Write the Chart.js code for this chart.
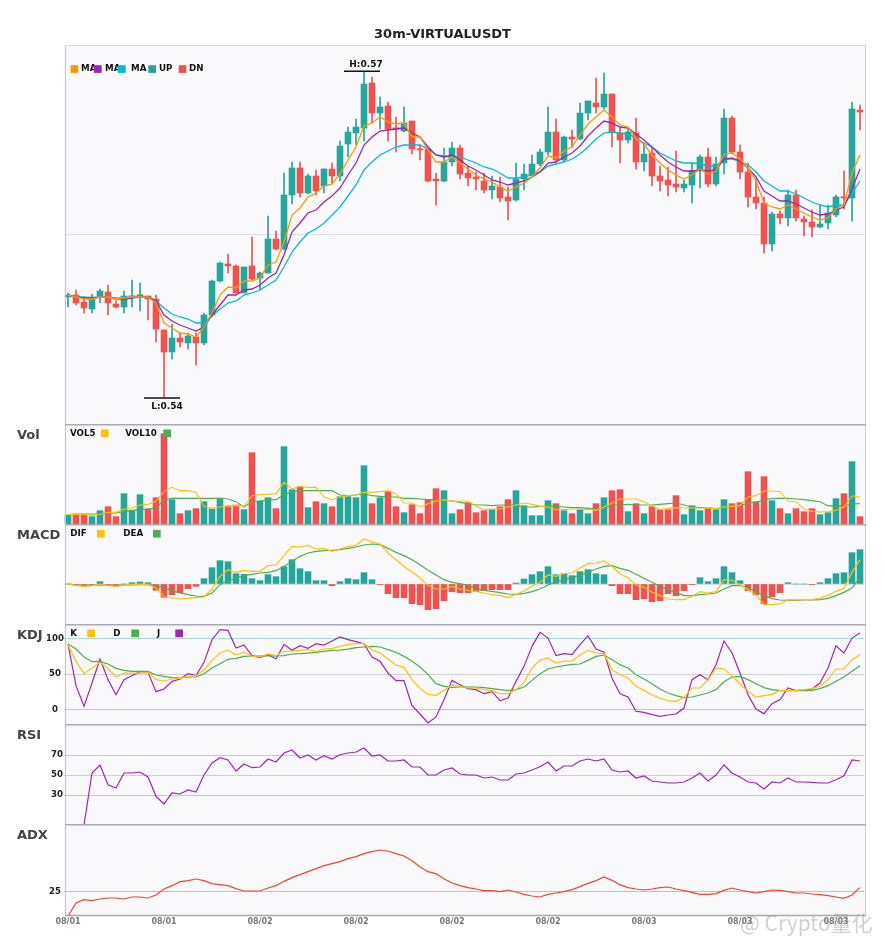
<!DOCTYPE html>
<html><head><meta charset="utf-8">
<script src="https://cdn.jsdelivr.net/npm/chart.js@4.4.1/dist/chart.umd.min.js"></script>
<style>
html,body{margin:0;padding:0;background:#fff;}
#wrap{position:relative;width:885px;height:950px;overflow:hidden;background:#fff;}
canvas{position:absolute;left:0;}
.lbl{position:absolute;left:17px;font:bold 13px "DejaVu Sans",sans-serif;color:#444;line-height:15px;}
#title{position:absolute;top:26px;left:0;width:885px;text-align:center;font:bold 13px "DejaVu Sans",sans-serif;color:#222;line-height:16px;}
</style></head><body>
<div id="wrap">
<canvas id="cMain" style="top:0" width="885" height="424"></canvas>
<canvas id="cVol" style="top:424px" width="885" height="100"></canvas>
<canvas id="cMacd" style="top:524px" width="885" height="100"></canvas>
<canvas id="cKdj" style="top:624px" width="885" height="100"></canvas>
<canvas id="cRsi" style="top:724px" width="885" height="100"></canvas>
<canvas id="cAdx" style="top:824px" width="885" height="126"></canvas>
<div id="title">30m-VIRTUALUSDT</div>
<div class="lbl" style="top:427px">Vol</div>
<div class="lbl" style="top:527px">MACD</div>
<div class="lbl" style="top:627px">KDJ</div>
<div class="lbl" style="top:727px">RSI</div>
<div class="lbl" style="top:827px">ADX</div>
</div>
<script>
// ---------------- data ----------------
const tickLabels = ['08/01','08/01','08/02','08/02','08/02','08/02','08/03','08/03','08/03'];
const categories = [];
for (let i = 0; i < 100; i++) {
  const m = 12 * 60 + i * 30, d = 1 + Math.floor(m / 1440), hm = m % 1440;
  categories.push('08/0' + d + ' ' + String(Math.floor(hm / 60)).padStart(2, '0') + ':' + (hm % 60 ? '30' : '00'));
}
const opens = [.5475,.5477,.5470,.5463,.5476,.5480,.5468,.5465,.5475,.5476,
.5476,.5473,.5442,.5420,.5434,.5429,.5435,.5429,.5457,.5491,
.5508,.5506,.5479,.5506,.5494,.5499,.5533,.5523,.5577,.5604,
.5579,.5596,.5586,.5603,.5596,.5628,.5639,.5644,.5689,.5659,
.5666,.5644,.5641,.5651,.5623,.5623,.5593,.5591,.5610,.5624,
.5599,.5595,.5591,.5582,.5585,.5575,.5572,.5593,.5597,.5608,
.5620,.5640,.5612,.5635,.5633,.5659,.5669,.5665,.5678,.5639,
.5632,.5639,.5610,.5619,.5596,.5592,.5588,.5584,.5587,.5601,
.5615,.5588,.5609,.5654,.5620,.5600,.5575,.5569,.5528,.5558,
.5554,.5577,.5553,.5550,.5545,.5549,.5557,.5575,.5574,.5662];
const highs = [.5479,.5482,.5473,.5478,.5483,.5487,.5471,.5481,.5492,.5489,
.5476,.5477,.5442,.5448,.5439,.5439,.5439,.5459,.5492,.5510,
.5518,.5507,.5505,.5535,.5500,.5556,.5541,.5599,.5610,.5610,
.5598,.5602,.5603,.5609,.5631,.5645,.5653,.5700,.5695,.5675,
.5670,.5655,.5665,.5651,.5627,.5625,.5599,.5624,.5630,.5627,
.5606,.5600,.5599,.5596,.5595,.5585,.5609,.5608,.5617,.5623,
.5665,.5653,.5636,.5642,.5669,.5671,.5694,.5699,.5678,.5645,
.5643,.5654,.5629,.5625,.5606,.5605,.5621,.5592,.5609,.5617,
.5624,.5615,.5663,.5656,.5627,.5609,.5593,.5575,.5560,.5561,
.5582,.5582,.5556,.5562,.5567,.5567,.5577,.5601,.5670,.5667];
const lows = [.5465,.5467,.5459,.5459,.5469,.5457,.5464,.5459,.5465,.5461,
.5452,.5430,.5375,.5413,.5425,.5423,.5407,.5427,.5455,.5490,
.5499,.5479,.5479,.5492,.5482,.5499,.5522,.5522,.5568,.5575,
.5578,.5577,.5579,.5589,.5591,.5615,.5627,.5631,.5649,.5643,
.5631,.5620,.5640,.5618,.5612,.5590,.5567,.5590,.5606,.5593,
.5586,.5582,.5579,.5573,.5570,.5552,.5571,.5582,.5595,.5606,
.5617,.5610,.5610,.5625,.5632,.5652,.5659,.5663,.5625,.5609,
.5629,.5603,.5601,.5586,.5581,.5576,.5580,.5580,.5569,.5584,
.5585,.5586,.5598,.5619,.5593,.5565,.5563,.5519,.5521,.5548,
.5546,.5551,.5536,.5535,.5544,.5543,.5555,.5563,.5551,.5642];
const closes = [.5477,.5469,.5464,.5475,.5481,.5469,.5465,.5476,.5476,.5477,
.5473,.5443,.5420,.5434,.5430,.5436,.5429,.5457,.5491,.5509,
.5506,.5479,.5505,.5493,.5499,.5533,.5523,.5577,.5604,.5579,
.5596,.5581,.5603,.5596,.5626,.5640,.5645,.5688,.5659,.5665,
.5643,.5643,.5649,.5623,.5622,.5591,.5591,.5610,.5624,.5598,
.5594,.5593,.5582,.5586,.5574,.5571,.5593,.5598,.5608,.5620,
.5640,.5612,.5635,.5633,.5659,.5671,.5665,.5678,.5640,.5632,
.5640,.5610,.5618,.5596,.5591,.5587,.5585,.5588,.5601,.5615,
.5588,.5608,.5654,.5620,.5600,.5575,.5569,.5528,.5558,.5554,
.5577,.5554,.5550,.5545,.5548,.5559,.5575,.5574,.5663,.5660];
const ma5 = [.5477,.5475,.5473,.5473,.5475,.5475,.5473,.5474,.5475,.5475,
.5475,.5469,.5449,.5444,.5439,.5438,.5435,.5445,.5459,.5477,
.5485,.5484,.5491,.5491,.5494,.5507,.5510,.5530,.5557,.5564,
.5575,.5579,.5586,.5588,.5598,.5612,.5625,.5646,.5649,.5655,
.5650,.5648,.5649,.5635,.5635,.5622,.5610,.5610,.5615,.5609,
.5603,.5597,.5593,.5590,.5585,.5581,.5585,.5589,.5595,.5604,
.5616,.5614,.5621,.5625,.5637,.5648,.5655,.5662,.5655,.5647,
.5645,.5633,.5628,.5617,.5609,.5602,.5597,.5593,.5597,.5603,
.5598,.5601,.5618,.5619,.5613,.5604,.5591,.5569,.5565,.5563,
.5567,.5563,.5559,.5555,.5552,.5554,.5563,.5567,.5599,.5617];
const ma10 = [.5477,.5475,.5474,.5474,.5475,.5475,.5473,.5473,.5474,.5475,
.5475,.5471,.5457,.5451,.5447,.5444,.5441,.5445,.5457,.5467,
.5477,.5477,.5482,.5483,.5487,.5494,.5499,.5517,.5540,.5549,
.5559,.5562,.5570,.5576,.5584,.5597,.5609,.5627,.5635,.5641,
.5642,.5643,.5644,.5639,.5635,.5625,.5617,.5615,.5617,.5612,
.5606,.5602,.5597,.5592,.5590,.5587,.5589,.5591,.5595,.5600,
.5609,.5610,.5615,.5619,.5626,.5636,.5644,.5651,.5649,.5645,
.5644,.5638,.5632,.5625,.5617,.5610,.5605,.5601,.5601,.5602,
.5601,.5602,.5613,.5614,.5611,.5604,.5595,.5581,.5576,.5571,
.5571,.5568,.5564,.5560,.5557,.5558,.5562,.5565,.5583,.5603];
const ma30 = [.5477,.5475,.5475,.5474,.5475,.5475,.5474,.5474,.5475,.5475,
.5475,.5471,.5464,.5458,.5455,.5453,.5449,.5449,.5456,.5463,
.5469,.5471,.5477,.5479,.5482,.5487,.5492,.5505,.5520,.5530,
.5539,.5543,.5549,.5557,.5565,.5576,.5587,.5602,.5610,.5617,
.5621,.5625,.5627,.5627,.5627,.5623,.5617,.5616,.5615,.5615,
.5612,.5609,.5605,.5603,.5599,.5594,.5594,.5595,.5597,.5600,
.5606,.5608,.5610,.5613,.5618,.5625,.5633,.5639,.5640,.5639,
.5638,.5634,.5629,.5625,.5619,.5615,.5611,.5609,.5609,.5608,
.5606,.5606,.5613,.5613,.5611,.5607,.5600,.5591,.5586,.5581,
.5581,.5578,.5574,.5570,.5567,.5565,.5567,.5567,.5579,.5591];
const volumes = [27,28,28,22,40,52,22,91,40,88,
45,79,271,73,31,40,46,67,45,76,
52,57,43,214,69,79,46,232,103,111,
49,67,61,52,82,82,79,175,61,79,
97,52,34,58,31,72,106,100,31,43,
64,34,40,43,52,73,100,55,25,25,
70,61,40,31,43,31,61,79,100,103,
37,61,31,52,43,43,85,28,55,40,
46,43,73,61,64,157,67,142,70,46,
31,46,37,46,28,34,76,91,187,22];
const vol5 = [28,29,29,26,29,35,35,45,48,57,
59,68,98,110,100,100,95,53,47,51,
55,55,53,85,88,89,91,125,105,113,
110,110,81,73,81,85,87,95,95,97,
100,91,63,63,51,61,69,73,68,69,
69,53,43,45,45,51,57,63,59,53,
51,43,43,45,45,43,41,51,63,75,
75,75,67,55,43,47,49,48,48,48,
49,45,51,53,55,81,85,99,99,97,
69,67,45,38,36,37,41,51,84,81];
const vol10 = [28,30,30,30,29,33,33,37,41,43,
45,47,73,77,77,77,77,77,77,78,
75,67,51,67,69,72,73,88,97,100,
100,100,100,100,87,85,87,91,85,83,
81,81,77,77,75,73,73,71,69,65,
61,57,57,55,57,57,55,51,51,53,
53,53,51,49,49,47,45,47,57,57,
59,57,57,57,59,61,63,57,51,49,
49,45,51,53,55,63,65,73,76,77,
77,75,73,70,67,55,53,55,60,61];
const macdHist = [0,-0.00004,-0.00006,-0.00003,0.00007,-0.00004,-0.00006,0,0.00004,0.00006,
0.00004,-0.00019,-0.00040,-0.00032,-0.00026,-0.00014,-0.00007,0.00016,0.00049,0.00070,
0.00067,0.00031,0.00029,0.00016,0.00010,0.00028,0.00022,0.00052,0.00073,0.00046,
0.00037,0.00010,0.00010,-0.00005,0.00007,0.00016,0.00013,0.00034,0.00013,-0.00002,
-0.00029,-0.00041,-0.00041,-0.00059,-0.00062,-0.00077,-0.00074,-0.00050,-0.00023,-0.00026,
-0.00026,-0.00023,-0.00020,-0.00017,-0.00017,-0.00017,0.00003,0.00015,0.00028,0.00037,
0.00052,0.00028,0.00031,0.00025,0.00037,0.00043,0.00031,0.00028,-0.00005,-0.00029,
-0.00029,-0.00047,-0.00044,-0.00053,-0.00050,-0.00029,-0.00035,-0.00020,-0.00002,0.00019,
0.00007,0.00016,0.00052,0.00034,0.00010,-0.00020,-0.00032,-0.00059,-0.00038,-0.00026,
0.00004,0,0,-0.00002,0.00004,0.00016,0.00031,0.00034,0.00094,0.00103];
const dif = [0,-0.00004,-0.00007,-0.00005,-0.00001,-0.00005,-0.00007,-0.00004,-0.00001,-0.00001,
-0.00002,-0.00012,-0.00039,-0.00042,-0.00045,-0.00043,-0.00041,-0.00039,-0.00015,0.00023,
0.00043,0.00035,0.00041,0.00038,0.00038,0.00055,0.00057,0.00085,0.00113,0.00111,
0.00116,0.00105,0.00107,0.00098,0.00105,0.00113,0.00116,0.00135,0.00126,0.00120,
0.00093,0.00073,0.00053,0.00037,0.00018,-0.00004,-0.00015,-0.00015,-0.00007,-0.00015,
-0.00019,-0.00022,-0.00027,-0.00032,-0.00034,-0.00041,-0.00031,-0.00021,-0.00007,0.00005,
0.00027,0.00023,0.00031,0.00033,0.00048,0.00061,0.00063,0.00069,0.00053,0.00031,
0.00018,-0.00003,-0.00010,-0.00025,-0.00035,-0.00045,-0.00047,-0.00047,-0.00037,-0.00023,
-0.00027,-0.00023,0.00013,0.00011,-0.00002,-0.00017,-0.00032,-0.00062,-0.00062,-0.00059,
-0.00047,-0.00048,-0.00048,-0.00047,-0.00042,-0.00034,-0.00022,-0.00012,0.00035,0.00073];
const dea = [0,-0.00003,-0.00005,-0.00004,-0.00003,-0.00004,-0.00004,-0.00003,-0.00003,-0.00002,
-0.00002,-0.00005,-0.00012,-0.00020,-0.00027,-0.00032,-0.00036,-0.00037,-0.00027,-0.00002,
0.00009,0.00018,0.00025,0.00029,0.00033,0.00035,0.00040,0.00053,0.00068,0.00083,
0.00093,0.00098,0.00100,0.00101,0.00103,0.00107,0.00111,0.00117,0.00120,0.00118,
0.00107,0.00095,0.00085,0.00073,0.00058,0.00041,0.00027,0.00013,0.00005,0.00001,
-0.00004,-0.00013,-0.00019,-0.00022,-0.00026,-0.00030,-0.00031,-0.00028,-0.00023,-0.00015,
-0.00003,0.00006,0.00013,0.00019,0.00026,0.00035,0.00045,0.00053,0.00055,0.00047,
0.00041,0.00029,0.00017,0.00005,-0.00007,-0.00017,-0.00025,-0.00035,-0.00035,-0.00032,
-0.00030,-0.00027,-0.00015,-0.00005,-0.00004,-0.00012,-0.00022,-0.00035,-0.00044,-0.00048,
-0.00049,-0.00049,-0.00048,-0.00048,-0.00047,-0.00043,-0.00035,-0.00025,-0.00012,0.00019];
const kLine = [91.6,68.1,50.7,58.7,66.7,57.7,46.0,51.6,51.6,51.6,
52.6,42.3,40.4,43.2,44.1,46.9,47.9,56.3,69.5,79.8,
84.0,77.0,81.2,75.1,74.2,78.4,76.1,82.2,82.6,83.6,
84.5,81.7,85.4,86.4,89.2,92.0,93.0,93.0,84.5,79.8,
71.4,62.9,59.6,42.3,30.0,21.6,20.2,27.2,34.7,32.9,
30.5,30.5,28.2,26.8,22.5,22.5,28.2,38.5,58.7,69.5,
72.8,65.7,68.5,68.5,77.0,83.6,79.8,78.9,56.3,49.3,
44.6,32.9,27.2,21.1,16.0,12.7,11.7,17.4,30.5,30.5,
42.3,58.7,57.3,47.9,36.2,25.8,17.8,19.7,21.6,27.2,
27.2,27.2,28.2,29.6,32.9,42.3,57.3,57.3,70.4,77.5];
const dLine = [92.5,85.4,74.2,67.6,68.1,64.3,58.2,55.4,54.0,54.0,
54.0,48.8,46.9,45.1,44.6,46.0,46.0,50.7,58.7,64.8,
70.9,72.3,75.1,75.6,75.6,76.1,75.6,76.1,78.4,78.9,
79.8,80.8,82.2,83.6,84.0,85.4,87.3,88.3,89.2,88.3,
84.5,80.8,75.1,68.1,60.1,49.3,36.6,32.9,31.5,31.9,
31.9,31.9,31.0,29.6,28.2,26.8,28.2,31.9,41.3,50.7,
57.3,60.1,62.0,63.9,64.3,69.5,75.1,77.0,70.4,63.4,
58.7,49.3,43.2,36.6,29.1,23.5,19.7,16.9,17.8,20.7,
23.5,28.2,39.4,46.0,46.9,42.3,36.6,31.0,28.2,26.8,
26.8,26.8,26.8,27.2,29.6,33.8,39.9,46.0,54.0,62.0];
const jLine = [92.5,33.8,4.7,37.6,71.4,42.3,21.1,42.3,47.9,53.5,
52.6,25.4,29.1,39.9,43.2,50.7,47.9,66.7,98.6,112.7,
111.7,86.9,91.1,76.1,73.2,77.9,71.4,92.0,83.6,90.1,
86.4,93.0,91.1,96.7,102.4,98.6,95.8,93.0,74.2,68.1,
51.6,40.8,40.8,5.6,-6.1,-18.8,-10.3,14.1,41.3,35.2,
29.6,28.2,22.5,25.4,12.7,16.4,39.9,61.0,89.2,108.9,
100.9,76.1,78.9,77.5,91.6,104.2,85.4,80.8,44.6,22.5,
17.8,-2.3,-3.8,-7.0,-9.4,-7.5,-6.1,2.3,42.3,49.3,
42.3,63.4,96.7,79.8,51.6,21.1,0.9,-5.6,8.5,14.1,
30.5,26.8,27.7,29.1,37.6,58.7,90.1,79.8,100.9,108.0];
const rsi = [null,null,0,52.0,60.0,40.3,37.0,52.0,52.0,53.0,
48.0,28.7,21.0,32.0,31.0,35.0,33.0,50.0,62.0,67.3,
65.0,54.0,61.0,57.3,58.0,66.0,63.0,72.0,75.0,67.0,
70.0,65.0,69.3,66.0,70.3,72.0,73.0,77.0,69.0,70.0,
64.0,64.0,65.0,58.0,58.0,50.0,50.0,55.0,57.0,51.0,
50.0,50.0,47.0,48.0,45.0,45.0,51.0,52.0,55.0,58.3,
63.0,54.0,59.0,59.0,64.0,66.0,64.0,66.0,55.0,53.0,
54.0,47.0,49.0,44.0,43.0,42.0,42.0,43.0,47.0,52.0,
44.0,50.0,60.0,52.0,48.0,43.0,42.0,36.0,43.0,42.0,
47.0,43.0,43.0,42.7,42.0,42.0,45.3,49.3,65.0,64.0];
const adx = [17.6,21.6,22.6,22.3,22.8,23.1,23.1,22.8,23.4,23.4,
23.1,24.0,25.8,26.8,28.0,28.3,28.8,28.3,27.4,27.1,
26.8,25.9,25.2,25.2,25.2,26.1,26.8,28.1,29.2,30.1,
31.0,31.9,32.8,33.4,34.0,34.9,35.5,36.4,37.0,37.5,
37.2,36.4,35.7,34.3,32.5,31.0,30.4,28.9,27.6,26.8,
26.2,25.8,25.3,25.3,25.0,25.5,24.9,24.2,23.7,23.4,
24.2,24.6,25.0,25.6,26.5,27.5,28.3,29.4,28.4,27.1,
26.2,25.8,25.5,25.8,26.2,26.4,25.8,25.3,24.8,24.2,
24.2,24.4,25.4,26.1,25.5,25.0,24.6,25.0,25.5,25.4,
25.0,24.6,24.6,24.3,24.1,23.8,23.4,23.0,24.0,26.2];

// ---------------- styles ----------------
const UP = '#26a69a', DN = '#ef5350';
const ORANGE = '#ff9800', PURPLE = '#9c27b0', CYAN = '#00bcd4', YEL = '#ffc107', GRN = '#4caf50', ADXC = '#f44336';
const FONT = '"DejaVu Sans", sans-serif';
const candleColors = closes.map((c, i) => c >= opens[i] ? UP : DN);

// ---------------- plugins ----------------
const framePlugin = {
  id: 'frame',
  beforeDraw(chart) {
    const { ctx, chartArea: a } = chart;
    ctx.save(); ctx.fillStyle = '#f9f9fc';
    ctx.fillRect(a.left, a.top, a.right - a.left + 2, a.bottom - a.top);
    ctx.restore();
  },
  afterDraw(chart, args, o) {
    const { ctx, chartArea: a } = chart;
    const seg = (x1, y1, x2, y2, c, w) => { ctx.beginPath(); ctx.strokeStyle = c; ctx.lineWidth = w; ctx.moveTo(x1, y1); ctx.lineTo(x2, y2); ctx.stroke(); };
    ctx.save();
    seg(a.left + 1.5, a.top, a.left + 1.5, a.bottom, '#c4c4cc', 1);
    seg(a.right + 1.5, a.top, a.right + 1.5, a.bottom, '#cdcdd5', 1);
    if (o.top === 'light') seg(a.left + 1, a.top + 0.5, a.right + 2, a.top + 0.5, '#d3d3db', 1);
    if (o.top === 'dark') seg(a.left + 1, a.top + 0.75, a.right + 2, a.top + 0.75, '#a9a9b3', 1.5);
    if (o.bottom) seg(a.left + 1, a.bottom + 0.5, a.right + 2, a.bottom + 0.5, '#a9a9b3', 1.5);
    ctx.restore();
  }
};
const boxLegendPlugin = {
  id: 'boxLegend',
  afterDraw(chart, args, o) {
    if (!o.items) return;
    const ctx = chart.ctx;
    ctx.save();
    ctx.font = 'bold 8.7px ' + FONT; ctx.textBaseline = 'middle'; ctx.fillStyle = '#111';
    o.items.forEach(it => ctx.fillText(it.t, it.tx, o.y));
    o.items.forEach(it => { ctx.fillStyle = it.c; ctx.fillRect(it.bx, o.y - 3.8, 7.7, 7.7); });
    ctx.restore();
  }
};
const yLabelPlugin = {
  id: 'yLabels',
  afterDraw(chart, args, o) {
    if (!o.values) return;
    const ctx = chart.ctx, ys = chart.scales.y;
    ctx.save();
    ctx.font = 'bold 8.6px ' + FONT; ctx.fillStyle = '#222'; ctx.textAlign = 'center'; ctx.textBaseline = 'middle';
    o.values.forEach(v => ctx.fillText(String(v), o.x, ys.getPixelForValue(v)));
    ctx.restore();
  }
};
const hiLoPlugin = {
  id: 'hiLo',
  afterDatasetsDraw(chart, args, o) {
    if (!o.on) return;
    const ctx = chart.ctx, xs = chart.scales.x, ys = chart.scales.y;
    const hi = Math.max(...highs), hiI = highs.indexOf(hi);
    const lo = Math.min(...lows), loI = lows.indexOf(lo);
    ctx.save();
    ctx.strokeStyle = '#111'; ctx.lineWidth = 1.5; ctx.fillStyle = '#111';
    ctx.font = 'bold 9px ' + FONT; ctx.textAlign = 'center'; ctx.textBaseline = 'middle';
    let px = xs.getPixelForValue(hiI), py = ys.getPixelForValue(hi) - 0.7;
    ctx.beginPath(); ctx.moveTo(px - 20, py); ctx.lineTo(px + 16, py); ctx.stroke();
    ctx.fillText('H:' + hi.toFixed(2), px + 2, py - 6.8);
    px = xs.getPixelForValue(loI); py = ys.getPixelForValue(lo) + 1;
    ctx.beginPath(); ctx.moveTo(px - 20, py); ctx.lineTo(px + 16, py); ctx.stroke();
    ctx.fillText('L:' + lo.toFixed(2), px + 3, py + 8.5);
    ctx.restore();
  }
};
const xLabelPlugin = {
  id: 'xLabels',
  afterDraw(chart, args, o) {
    if (!o.on) return;
    const ctx = chart.ctx, xs = chart.scales.x;
    ctx.save();
    ctx.font = 'bold 8px ' + FONT; ctx.fillStyle = '#777'; ctx.textAlign = 'center'; ctx.textBaseline = 'middle';
    categories.forEach((c, i) => { if (i % 12 === 0) ctx.fillText(tickLabels[i / 12], xs.getPixelForValue(i), o.y); });
    // watermark
    ctx.font = '21px "Noto Sans CJK SC", ' + FONT; ctx.textAlign = 'left'; ctx.textBaseline = 'alphabetic';
    ctx.fillStyle = 'rgba(150,150,150,0.45)';
    ctx.fillText('@ Crypto量化', 740, o.y + 9);
    ctx.restore();
  }
};
Chart.register(framePlugin, boxLegendPlugin, yLabelPlugin, hiLoPlugin, xLabelPlugin);

// ---------------- helpers ----------------
function yAxis(min, max, lines) {
  return {
    min, max, display: lines.length > 0, position: 'left',
    afterBuildTicks: s => { s.ticks = lines.map(l => ({ value: l.v })); },
    afterFit: s => { s.width = 0; },
    ticks: { display: false },
    border: { display: false },
    grid: { drawTicks: false, lineWidth: 1,
      color: c => { const l = lines.find(l => l.v === (c.tick && c.tick.value)); return l ? l.c : 'rgba(0,0,0,0)'; } }
  };
}
function opts(padTop, padBottom, y, pluginOpts) {
  return {
    responsive: false, animation: false, events: [],
    layout: { padding: { left: 64, right: 21, top: padTop, bottom: padBottom } },
    plugins: Object.assign({ legend: { display: false }, tooltip: { enabled: false } }, pluginOpts),
    scales: { x: { type: 'category', display: false, offset: true }, y }
  };
}
const lineDs = (label, data, color, w) => ({ type: 'line', label, data, borderColor: color, backgroundColor: color,
  borderWidth: w || 1.2, pointRadius: 0, fill: false, tension: 0, order: 0 });

// ---------------- main (candles) ----------------
new Chart(document.getElementById('cMain'), {
  type: 'bar',
  data: { labels: categories, datasets: [
    lineDs('MA5', ma5, ORANGE, 1.3),
    lineDs('MA10', ma10, PURPLE, 1.3),
    lineDs('MA30', ma30, CYAN, 1.3),
    { type: 'bar', label: 'Body', data: opens.map((o, i) => [o, closes[i]]), backgroundColor: candleColors,
      barThickness: 6, minBarLength: 1.2, grouped: false, borderWidth: 0, order: 2 },
    { type: 'bar', label: 'Wick', data: lows.map((l, i) => [l, highs[i]]), backgroundColor: candleColors,
      barThickness: 1, grouped: false, borderWidth: 0, order: 3 }
  ]},
  options: opts(45, 0, yAxis(0.5348, 0.5727, [{ v: 0.55375, c: '#dedee3' }]), {
    frame: { top: 'light' },
    hiLo: { on: true },
    boxLegend: { y: 69, items: [
      { t: 'MA', tx: 81, bx: 70.5, c: ORANGE }, { t: 'MA', tx: 105, bx: 94, c: PURPLE },
      { t: 'MA', tx: 131, bx: 118, c: CYAN }, { t: 'UP', tx: 159, bx: 148.3, c: UP },
      { t: 'DN', tx: 189, bx: 178.7, c: DN } ] }
  })
});

// ---------------- volume ----------------
new Chart(document.getElementById('cVol'), {
  type: 'bar',
  data: { labels: categories, datasets: [
    lineDs('VOL5', vol5, YEL, 1.1),
    lineDs('VOL10', vol10, GRN, 1.1),
    { type: 'bar', label: 'Vol', data: volumes, backgroundColor: candleColors, barThickness: 6, borderWidth: 0, grouped: false, order: 2 }
  ]},
  options: opts(0, 0, yAxis(0, 300, []), {
    frame: { top: 'dark' },
    boxLegend: { y: 9.3, items: [ { t: 'VOL5', tx: 70, bx: 101, c: YEL }, { t: 'VOL10', tx: 125.3, bx: 163.3, c: GRN } ] }
  })
});

// ---------------- MACD ----------------
new Chart(document.getElementById('cMacd'), {
  type: 'bar',
  data: { labels: categories, datasets: [
    lineDs('DIF', dif, YEL, 1.2),
    lineDs('DEA', dea, GRN, 1.2),
    { type: 'bar', label: 'MACD', data: macdHist, backgroundColor: macdHist.map(v => v >= 0 ? UP : DN),
      barThickness: 6, borderWidth: 0, grouped: false, order: 2 }
  ]},
  options: opts(0, 0, yAxis(-0.0012, 0.0018, [{ v: 0, c: '#dcdce0' }]), {
    frame: { top: 'dark' },
    boxLegend: { y: 9.7, items: [ { t: 'DIF', tx: 70.3, bx: 97, c: YEL }, { t: 'DEA', tx: 123.3, bx: 153, c: GRN } ] }
  })
});

// ---------------- KDJ ----------------
const kdjOpts = opts(0, 0, yAxis(-20.2, 120.7, [{ v: 100, c: '#a5dad5' }, { v: 50, c: '#cfcfd4' }, { v: 0, c: '#f6b3b3' }]), {
  frame: { top: 'dark' },
  yLabels: { values: [100, 50, 0], x: 55 },
  boxLegend: { y: 9.3, items: [ { t: 'K', tx: 70.3, bx: 87.3, c: YEL }, { t: 'D', tx: 113.3, bx: 131.3, c: GRN }, { t: 'J', tx: 157, bx: 175.3, c: PURPLE } ] }
});
kdjOpts.scales.x.offset = true;
new Chart(document.getElementById('cKdj'), {
  type: 'line',
  data: { labels: categories, datasets: [ lineDs('K', kLine, YEL), lineDs('D', dLine, GRN), lineDs('J', jLine, PURPLE) ] },
  options: kdjOpts
});

// ---------------- RSI ----------------
const rsiOpts = opts(0, 0, yAxis(1, 101, [{ v: 70, c: '#a5dad5' }, { v: 50, c: '#cfcfd4' }, { v: 30, c: '#f6b3b3' }]), {
  frame: { top: 'dark' },
  yLabels: { values: [70, 50, 30], x: 57 }
});
new Chart(document.getElementById('cRsi'), {
  type: 'line',
  data: { labels: categories, datasets: [ lineDs('RSI', rsi, PURPLE) ] },
  options: rsiOpts
});

// ---------------- ADX ----------------
const adxOpts = opts(0, 35, yAxis(18, 45.3, [{ v: 25, c: '#dfa9e6' }]), {
  frame: { top: 'dark', bottom: true },
  yLabels: { values: [25], x: 55 },
  xLabels: { on: true, y: 98 }
});
new Chart(document.getElementById('cAdx'), {
  type: 'line',
  data: { labels: categories, datasets: [ lineDs('ADX', adx, ADXC) ] },
  options: adxOpts
});
</script>
</body></html>
